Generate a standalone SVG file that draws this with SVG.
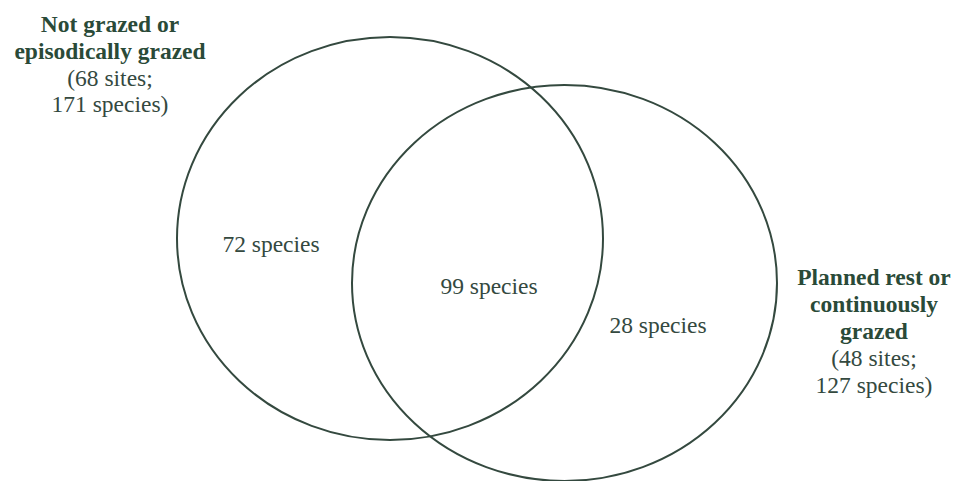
<svg xmlns="http://www.w3.org/2000/svg" width="962" height="481" viewBox="0 0 962 481">
<style>
.c{fill:none;stroke:#34493f;stroke-width:2}
text{font-family:"Liberation Serif","Times New Roman",serif;font-size:23.5px;fill:#34493f;text-anchor:middle}
.b{font-weight:bold;fill:#2a4a38}
</style>
<rect width="962" height="481" fill="#ffffff"/>
<g id="set-not-grazed">
<ellipse class="c" cx="390" cy="238.5" rx="213" ry="201.5"/>
<text x="110" y="32" class="b">Not grazed or</text>
<text x="110" y="59" class="b">episodically grazed</text>
<text x="110" y="86">(68 sites;</text>
<text x="110" y="112">171 species)</text>
</g>
<g id="set-planned-rest">
<ellipse class="c" cx="564.5" cy="283" rx="212.5" ry="198"/>
<text x="874" y="285" class="b">Planned rest or</text>
<text x="874" y="312" class="b">continuously</text>
<text x="874" y="339" class="b">grazed</text>
<text x="874" y="366">(48 sites;</text>
<text x="874" y="393">127 species)</text>
</g>
<g id="region-labels">
<text x="271" y="252">72 species</text>
<text x="489" y="294">99 species</text>
<text x="658" y="333">28 species</text>
</g>
<g id="connectors"></g>
</svg>
